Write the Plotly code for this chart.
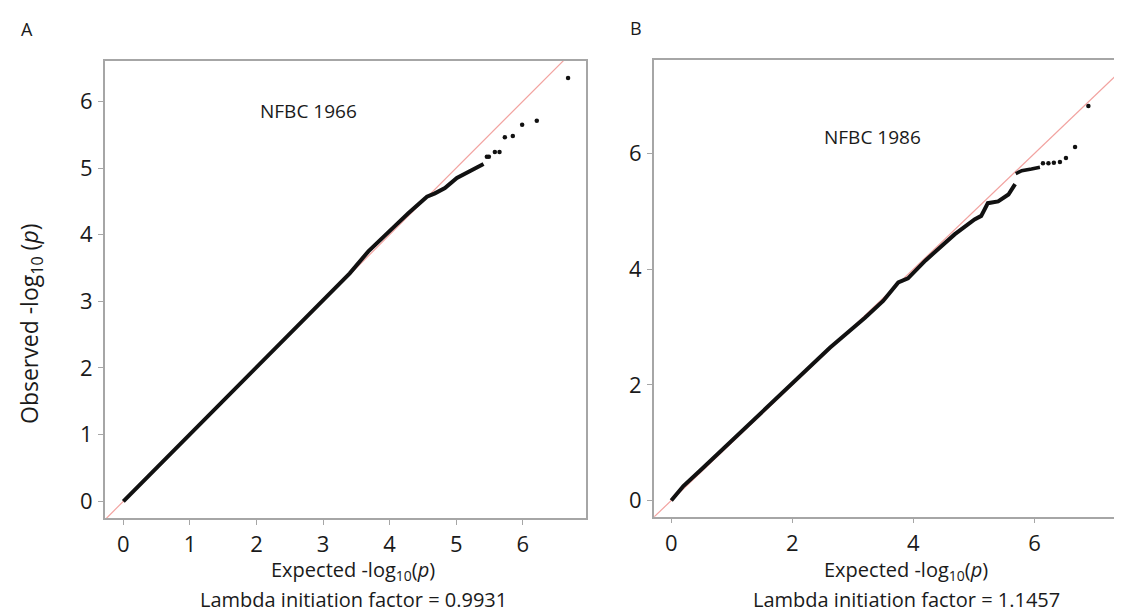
import plotly.graph_objects as go

# ---- Panel A (NFBC 1966) ----
a_body_x = [0, 0.5, 1.0, 1.5, 2.0, 2.5, 2.63, 3.13, 3.4, 3.68, 3.98, 4.1, 4.28, 4.4, 4.56, 4.68, 4.83, 5.01, 5.15, 5.3, 5.41]
a_body_y = [0, 0.5, 1.0, 1.5, 2.0, 2.51, 2.65, 3.15, 3.42, 3.75, 4.05, 4.15, 4.32, 4.42, 4.57, 4.62, 4.70, 4.85, 4.92, 4.99, 5.06]
a_tail_x = [5.46, 5.49, 5.58, 5.65, 5.73, 5.85, 5.99, 6.21, 6.68]
a_tail_y = [5.17, 5.17, 5.24, 5.24, 5.46, 5.48, 5.65, 5.71, 6.35]

# ---- Panel B (NFBC 1986) ----
b_body_x = [0, 0.2, 0.5, 1.0, 1.5, 2.0, 2.62, 3.2, 3.5, 3.75, 3.91, 4.2, 4.46, 4.68, 5.01, 5.12, 5.23, 5.40, 5.57, 5.68]
b_body_y = [0, 0.25, 0.54, 1.03, 1.52, 2.02, 2.64, 3.16, 3.45, 3.77, 3.84, 4.15, 4.40, 4.60, 4.86, 4.92, 5.14, 5.17, 5.29, 5.47]
b_upper_x = [5.69, 5.79, 5.95, 6.09]
b_upper_y = [5.65, 5.70, 5.73, 5.76]
b_tail_x = [6.14, 6.23, 6.32, 6.42, 6.52, 6.67, 6.89, 7.37]
b_tail_y = [5.83, 5.83, 5.84, 5.85, 5.92, 6.11, 6.82, 7.34]

diag = [-1, 9]
a_ticks = [0, 1, 2, 3, 4, 5, 6]
b_ticks = [0, 2, 4, 6]

x_title = "Expected -log<sub>10</sub>(<i>p</i>)"
lambda_a = "Lambda initiation factor = 0.9931"
lambda_b = "Lambda initiation factor = 1.1457"

FONT = "Open Sans"
RED = "#f2a3a0"
AX = "#a6a6a6"
TXT = "#1a1a1a"

fig = go.Figure()

def add_panel(xa, ya, body_x, body_y, tails):
    fig.add_trace(go.Scatter(x=diag, y=diag, mode="lines", line=dict(color=RED, width=1.2),
                             xaxis=xa, yaxis=ya, hoverinfo="skip"))
    fig.add_trace(go.Scatter(x=body_x, y=body_y, mode="lines", line=dict(color="#111", width=4),
                             xaxis=xa, yaxis=ya))
    for tx, ty, m in tails:
        fig.add_trace(go.Scatter(x=tx, y=ty, mode=m, line=dict(color="#111", width=3.5),
                                 marker=dict(color="#111", size=4.5), xaxis=xa, yaxis=ya,
                                 cliponaxis=False))

add_panel("x", "y", a_body_x, a_body_y, [(a_tail_x, a_tail_y, "markers")])
add_panel("x2", "y2", b_body_x, b_body_y, [(b_upper_x, b_upper_y, "lines"), (b_tail_x, b_tail_y, "markers")])

axis_common = dict(showgrid=False, zeroline=False, showline=True, linecolor=AX, linewidth=1.5,
                   mirror=True, ticks="outside", ticklen=5, tickcolor=AX, tickwidth=1,
                   tickfont=dict(family=FONT, size=22, color=TXT), ticklabelstandoff=1)

fig.update_layout(
    width=1122, height=612, margin=dict(l=0, r=0, t=0, b=0),
    paper_bgcolor="white", plot_bgcolor="white", showlegend=False,
    xaxis=dict(domain=[0.0862, 0.5152], range=[-0.28, 6.95], tickvals=a_ticks, **axis_common),
    yaxis=dict(domain=[0.1667, 0.9139], range=[-0.25, 6.61], tickvals=a_ticks, **axis_common),
    xaxis2=dict(domain=[0.5755, 0.9985], range=[-0.29, 7.55], tickvals=b_ticks, anchor="y2", **axis_common),
    yaxis2=dict(domain=[0.1688, 0.9155], range=[-0.28, 7.62], tickvals=b_ticks, anchor="x2", **axis_common),
)

title_font = dict(family=FONT, size=20, color=TXT)
anns = [
    dict(text="A", x=19, y=21, font=dict(family=FONT, size=18, color=TXT)),
    dict(text="B", x=628, y=20, font=dict(family=FONT, size=18, color=TXT)),
    dict(text=x_title, x=345, y=562, font=title_font),
    dict(text=lambda_a, x=345, y=591, font=title_font),
    dict(text=x_title, x=898, y=562, font=title_font),
    dict(text=lambda_b, x=898, y=591, font=title_font),
]
for a in anns:
    fig.add_annotation(text=a["text"], x=a["x"] / 1122, y=1 - a["y"] / 612, xref="paper", yref="paper",
                       showarrow=False, xanchor="center", yanchor="middle", font=a["font"])

fig.add_annotation(text="Observed -log<sub>10</sub> (<i>p</i>)", x=22 / 1122, y=1 - 316 / 612,
                   xref="paper", yref="paper", showarrow=False, textangle=-90,
                   xanchor="center", yanchor="middle", font=dict(family=FONT, size=23, color=TXT))

fig.add_annotation(text="NFBC 1966", x=2.78, y=5.85, xref="x", yref="y", showarrow=False,
                   font=dict(family=FONT, size=19, color=TXT))
fig.add_annotation(text="NFBC 1986", x=3.33, y=6.28, xref="x2", yref="y2", showarrow=False,
                   font=dict(family=FONT, size=19, color=TXT))

fig.write_html("out.html")
